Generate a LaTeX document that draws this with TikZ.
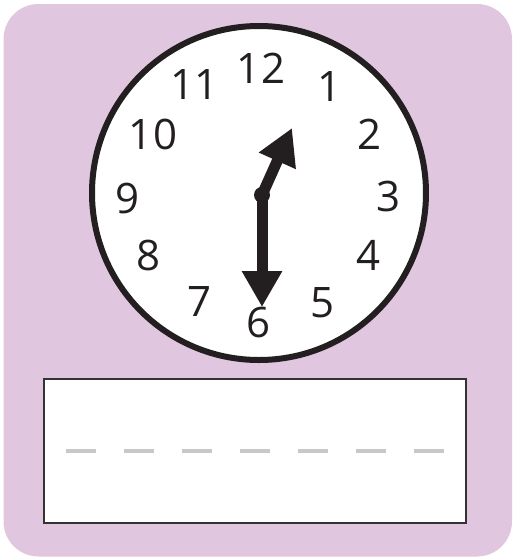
\documentclass[tikz,border=0pt]{standalone}
\usepackage{fontspec}
\setmainfont{Open Sans}
\usetikzlibrary{arrows.meta}

\definecolor{flieder}{HTML}{E1C6DF}
\definecolor{tinte}{HTML}{231F20}
\definecolor{rahmengrau}{HTML}{333333}
\definecolor{strichgrau}{HTML}{C8C8C8}

\tikzset{
    zahl/.style={inner sep=0pt, text=tinte, font=\fontsize{42}{42}\selectfont},
    zeiger/.style={line width=11pt, draw=tinte, -{Triangle[width=38pt,length=36pt]}}
}

\begin{document}
\begin{tikzpicture}[x=1pt, y=-1pt]
    \useasboundingbox (0,0) rectangle (514,558);
    % Hintergrund:
    \fill[flieder, rounded corners=35pt] (3.5,4) rectangle (512,556.5);
    % Zifferblatt:
    \draw[tinte, line width=6pt, fill=white] (259,193) circle (167);
    % Zahlen:
    \node[zahl] (z12) at (261,68) {12}; % oben
    \node[zahl] (z1) at (330,87) {1};
    \node[zahl] (z2) at (370,134) {2};
    \node[zahl] (z3) at (389,196) {3}; % rechts
    \node[zahl] (z4) at (368.5,255) {4};
    \node[zahl] (z5) at (322.5,302.5) {5};
    \node[zahl] (z6) at (259,322) {6}; % unten
    \node[zahl] (z7) at (199.5,302) {7};
    \node[zahl] (z8) at (149,255) {8};
    \node[zahl] (z9) at (128,198) {9}; % links
    \node[zahl] (z10) at (153,134.5) {10};
    \node[zahl] (z11) at (194.5,85) {11};
    % Zeiger:
    \coordinate (mitte) at (262,195);
    \coordinate (minute) at (262,307);
    \coordinate (stunde) at (292,128);
    \draw[zeiger] (mitte) -- (minute); % grosser Zeiger
    \draw[zeiger] (mitte) -- (stunde); % kleiner Zeiger
    \fill[tinte] (mitte) circle (8);
    % Antwortfeld:
    \draw[rahmengrau, line width=2.5pt, fill=white] (44,379) rectangle (466,523);
    \draw[strichgrau, line width=4pt, dash pattern=on 29.7pt off 28.3pt] (66,451) -- (444,451);
\end{tikzpicture}
\end{document}
